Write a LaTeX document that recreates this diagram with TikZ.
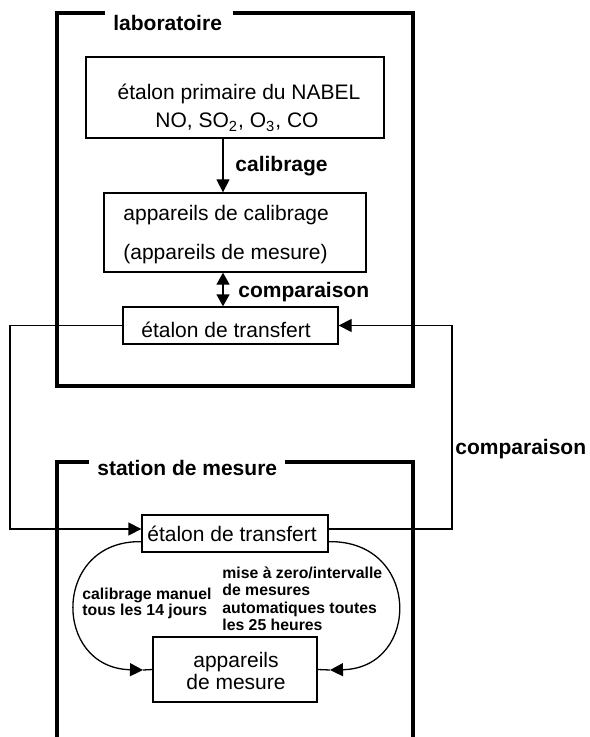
\documentclass[tikz,border=0pt]{standalone}
\usepackage{fontspec}
\setmainfont{Liberation Sans}
\usetikzlibrary{arrows.meta,calc}
\begin{document}
\begin{tikzpicture}[x=0.5pt,y=-0.5pt,
  frame/.style={line width=2pt},
  box/.style={draw,line width=0.65pt,inner sep=0pt},
  link/.style={line width=0.65pt},
  tip/.style={-{Triangle[length=6.5pt,width=6.5pt]}},
  dtip/.style={{Triangle[length=6pt,width=6.5pt]}-{Triangle[length=6pt,width=6.5pt]}},
  txt/.style={font=\fontsize{10.5}{12}\selectfont,inner sep=0pt,anchor=base},
  txtl/.style={font=\fontsize{10.5}{12}\selectfont,inner sep=0pt,anchor=base west},
  lbl/.style={font=\fontsize{10.5}{12}\selectfont\bfseries,inner sep=0pt,anchor=base west},
  small/.style={font=\fontsize{7.9}{9}\selectfont\bfseries,inner sep=0pt,anchor=base west}]
\useasboundingbox (0,0) rectangle (589,737);

% frames of the two sites
\draw[frame] (105,13) -- (57,13) -- (57,386) -- (413,386) -- (413,13) -- (233,13);
\node[lbl] (tlab) at (113,31) {laboratoire};
\draw[frame] (89,462) -- (57,462) -- (57,740);
\draw[frame] (285,462) -- (413,462) -- (413,740);
\node[lbl] (tsta) at (97,475) {station de mesure};

% boxes
\node[box,minimum width=149pt,minimum height=40.5pt] (prim) at (235,97.5) {};
\node[txt] (prim1) at (239,100) {étalon primaire du NABEL};
\node[txt] (prim2) at (237,128) {NO, SO\textsubscript{2}, O\textsubscript{3}, CO};

\node[box,minimum width=131pt,minimum height=39.5pt] (calib) at (235,232.5) {};
\node[txtl] (calib1) at (123,221) {appareils de calibrage};
\node[txtl] (calib2) at (123,260) {(appareils de mesure)};

\node[box,minimum width=107.5pt,minimum height=18.5pt] (et1) at (230.5,325.5) {};
\node[txt] (et1t) at (226,337) {étalon de transfert};

\node[box,minimum width=93pt,minimum height=18.5pt] (et2) at (235,533.5) {};
\node[txt] (et2t) at (232,541) {étalon de transfert};

\node[box,minimum width=82pt,minimum height=32.5pt] (app) at (235,669.5) {};
\node[txt] (app1) at (236,667) {appareils};
\node[txt] (app2) at (236,689) {de mesure};

% laboratory links
\draw[link,tip] ([xshift=-6pt]prim.south) -- ([xshift=-6pt]calib.north);
\node[lbl] (lcal) at (235,172) {calibrage};
\draw[link,dtip] ([xshift=-6pt]calib.south) -- ([xshift=-6pt]calib.south |- et1.north);
\node[lbl] (lcmp) at (238,298) {comparaison};

% transport of the transfer standard
\coordinate (lc) at (10,529);
\coordinate (rc) at (452,325.5);
\draw[link,tip] (et1.west) -| (lc) -- ([yshift=2.25pt]et2.west);
\draw[link,tip] ([yshift=2.25pt]et2.east) -| (rc) -- (et1.east);
\node[lbl] (rcmp) at (455,454) {comparaison};

% station loops
\coordinate (la) at (143,670);
\coordinate (ra) at (330,670);
\draw[link,tip] ([yshift=5.5pt]et2.south west) .. controls (52,540) and (52,668) .. (la);
\draw[link] (la) -- (app.west);
\draw[link,tip] ([yshift=5.5pt]et2.south east) .. controls (421,540) and (421,668) .. (ra);
\draw[link] (ra) -- (app.east);

\node[small] (m1) at (82,599) {calibrage manuel};
\node[small] (m2) at (82,615) {tous les 14 jours};
\node[small] (a1) at (222,578) {mise à zero/intervalle};
\node[small] (a2) at (222,595) {de mesures};
\node[small] (a3) at (222,613) {automatiques toutes};
\node[small] (a4) at (222,630) {les 25 heures};
\end{tikzpicture}
\end{document}
